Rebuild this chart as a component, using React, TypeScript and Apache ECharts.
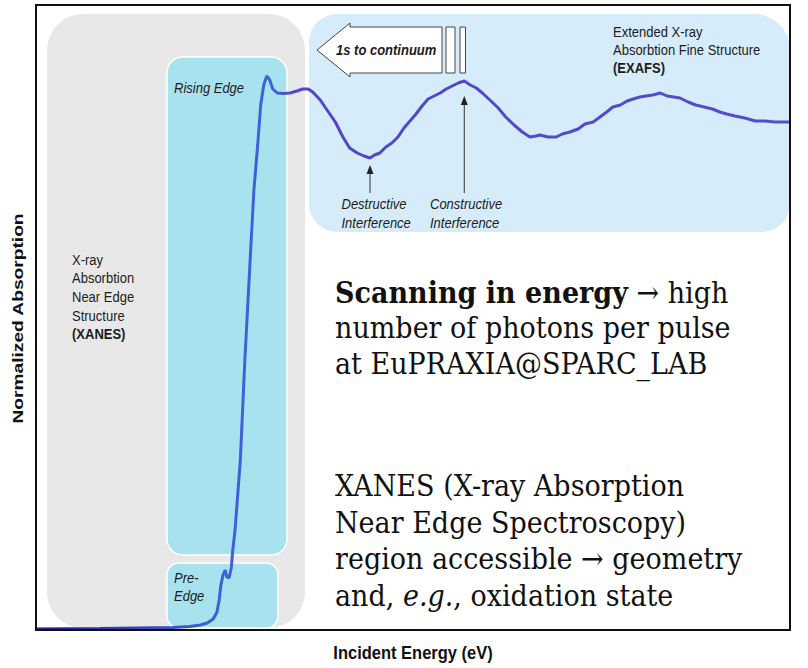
import React, { useEffect, useRef } from "react";
import * as echarts from "echarts";

// Incident energy on a relative scale (0–100) and normalized absorption μ(E)
const energy = [
  0, 8.5, 18.2, 20.4, 21.8, 22.7, 23.5, 24.0, 24.3, 24.5, 24.8, 25.1, 25.3, 25.6, 25.9, 26.1, 26.4,
  27.1, 27.7, 28.4, 28.9, 29.4, 29.8, 30.2, 30.6, 31.0, 31.4, 32.0, 32.8, 33.7, 34.6, 35.4, 36.1,
  36.7, 37.7, 38.6, 39.7, 40.7, 41.6, 42.6, 43.5, 44.3, 44.9, 45.6, 46.4, 47.2, 48.0, 48.8, 49.6,
  50.4, 51.2, 52.0, 52.8, 53.6, 54.4, 55.2, 56.0, 56.8, 57.6, 58.4, 59.2, 60.2, 61.3, 62.3, 63.4,
  64.5, 65.5, 66.3, 66.8, 67.9, 69.0, 69.8, 70.8, 71.9, 72.8, 73.9, 74.8, 75.7, 76.5, 77.5, 78.4,
  79.2, 80.1, 80.9, 81.8, 82.8, 83.7, 84.6, 85.4, 86.5, 87.5, 88.6, 89.7, 90.7, 91.6, 92.7, 94.0,
  95.4, 96.7, 98.0, 100,
];
const absorption = [
  0.002, 0.003, 0.005, 0.007, 0.010, 0.014, 0.022, 0.036, 0.060, 0.088, 0.110, 0.120, 0.106, 0.104,
  0.124, 0.160, 0.200, 0.340, 0.540, 0.740, 0.880, 0.970, 1.050, 1.090, 1.108, 1.100, 1.082, 1.074,
  1.073, 1.074, 1.078, 1.082, 1.082, 1.076, 1.060, 1.040, 1.016, 0.986, 0.964, 0.954, 0.948, 0.944,
  0.950, 0.954, 0.966, 0.974, 0.986, 1.004, 1.018, 1.032, 1.048, 1.062, 1.068, 1.074, 1.082, 1.088,
  1.094, 1.098, 1.090, 1.084, 1.074, 1.060, 1.044, 1.026, 1.010, 0.996, 0.986, 0.988, 0.990, 0.986,
  0.986, 0.992, 0.996, 1.002, 1.012, 1.016, 1.026, 1.036, 1.046, 1.050, 1.058, 1.062, 1.066, 1.068,
  1.070, 1.074, 1.068, 1.066, 1.064, 1.056, 1.050, 1.046, 1.042, 1.036, 1.032, 1.028, 1.024, 1.018,
  1.018, 1.016, 1.016,
];

const xTitle = "Incident Energy (eV)";
const yTitle = "Normalized Absorption";
const xanesLabel = ["X-ray", "Absorbtion", "Near Edge", "Structure", "(XANES)"];
const exafsLabel = ["Extended X-ray", "Absorbtion Fine Structure", "(EXAFS)"];
const risingLabel = "Rising Edge";
const preEdgeLabel = ["Pre-", "Edge"];
const continuumLabel = "1s to continuum";
const destructiveLabel = ["Destructive", "Interference"];
const constructiveLabel = ["Constructive", "Interference"];
const noteTop = [
  "{b|Scanning in energy} → high",
  "number of photons per pulse",
  "at EuPRAXIA@SPARC_LAB",
];
const noteBottom = [
  "XANES (X-ray Absorption",
  "Near Edge Spectroscopy)",
  "region accessible → geometry",
  "and, {i|e.g.}, oxidation state",
];

const SANS = "'Liberation Sans', Arial, Helvetica, sans-serif";
const SERIF = "'DejaVu Serif', serif";

function sansText(
  text: string,
  x: number,
  y: number,
  o: { bold?: boolean; italic?: boolean; size?: number } = {}
) {
  return {
    type: "text",
    x,
    y,
    scaleY: 1.12,
    z: 10,
    silent: true,
    style: {
      text,
      fill: "#1c1c1c",
      fontFamily: SANS,
      fontSize: o.size ?? 13,
      fontWeight: o.bold ? "bold" : "normal",
      fontStyle: o.italic ? "italic" : "normal",
      align: "left",
      verticalAlign: "middle",
    },
  };
}

function serifText(text: string, x: number, y: number) {
  return {
    type: "text",
    x,
    y,
    scaleY: 1.12,
    z: 10,
    silent: true,
    style: {
      text,
      fill: "#111",
      fontFamily: SERIF,
      fontSize: 27,
      align: "left",
      verticalAlign: "middle",
      rich: {
        b: { fontFamily: SERIF, fontSize: 27, fontWeight: "bold", fill: "#111" },
        i: { fontFamily: SERIF, fontSize: 27, fontStyle: "italic", fill: "#111" },
      },
    },
  };
}

export default function App() {
  const ref = useRef<HTMLDivElement>(null);

  useEffect(() => {
    const el = ref.current!;
    const chart = echarts.init(el, null, { renderer: "svg" });
    const data = energy.map((e, i) => [e, absorption[i]]);

    chart.setOption({
      animation: false,
      grid: { left: 36, right: 18, top: 5, bottom: 38 },
      xAxis: { type: "value", min: 0, max: 100, show: false },
      yAxis: { type: "value", min: 0, max: 1.25, show: false },
      series: [
        {
          type: "line",
          data,
          symbol: "none",
          silent: true,
          z: 5,
          lineStyle: {
            width: 3,
            color: new echarts.graphic.LinearGradient(0, 0, 1, 0, [
              { offset: 0, color: "#1f1f8e" },
              { offset: 0.14, color: "#3a44bc" },
              { offset: 0.24, color: "#3c60d8" },
              { offset: 0.31, color: "#3e62d8" },
              { offset: 0.35, color: "#5444c8" },
              { offset: 1, color: "#4f4fd0" },
            ]),
          },
        },
      ],
    });

    const px = (x: number, y: number) =>
      chart.convertToPixel({ gridIndex: 0 }, [x, y]) as number[];
    const [gx0, gy0] = px(0, 1.25);
    const [gx1, gy1] = px(100, 0);

    // extreme points used by the interference arrows
    let dIdx = -1;
    let cIdx = -1;
    energy.forEach((e, i) => {
      if (e > 40 && e < 50 && (dIdx < 0 || absorption[i] < absorption[dIdx])) dIdx = i;
      if (e > 50 && e < 60 && (cIdx < 0 || absorption[i] > absorption[cIdx])) cIdx = i;
    });
    const dP = px(energy[dIdx], absorption[dIdx]);
    const cP = px(energy[cIdx], absorption[cIdx]);

    const upArrow = (x: number, tipY: number, baseY: number) => [
      {
        type: "line",
        z: 10,
        silent: true,
        shape: { x1: x, y1: baseY, x2: x, y2: tipY + 6 },
        style: { stroke: "#333", lineWidth: 1 },
      },
      {
        type: "polygon",
        z: 10,
        silent: true,
        shape: { points: [[x, tipY], [x - 3.5, tipY + 9], [x + 3.5, tipY + 9]] },
        style: { fill: "#222" },
      },
    ];

    const elements: any[] = [
      // region panels
      {
        type: "rect",
        z: 1,
        silent: true,
        shape: { x: 47, y: 14, width: 258, height: 614, r: 36 },
        style: { fill: "#e8e8e8" },
      },
      {
        type: "rect",
        z: 1,
        silent: true,
        shape: { x: 309, y: 14, width: gx1 - 309, height: 218, r: [28, 36, 28, 28] },
        style: { fill: "#d6ecfa" },
      },
      {
        type: "rect",
        z: 2,
        silent: true,
        shape: { x: 167, y: 57, width: 120, height: 498, r: 16 },
        style: { fill: "#a8e2ee", stroke: "#ffffff", lineWidth: 1.5 },
      },
      {
        type: "rect",
        z: 2,
        silent: true,
        shape: { x: 167, y: 563, width: 111, height: 65, r: 12 },
        style: { fill: "#a8e2ee", stroke: "#ffffff", lineWidth: 1.5 },
      },
      // "1s to continuum" arrow with break bars
      {
        type: "polygon",
        z: 8,
        silent: true,
        shape: {
          points: [
            [317, 50], [350, 23], [350, 27], [442, 27], [442, 73], [350, 73], [350, 77],
          ],
        },
        style: { fill: "#ffffff", stroke: "#444", lineWidth: 1 },
      },
      {
        type: "rect",
        z: 8,
        silent: true,
        shape: { x: 446, y: 27, width: 9, height: 46 },
        style: { fill: "#ffffff", stroke: "#444", lineWidth: 1 },
      },
      {
        type: "rect",
        z: 8,
        silent: true,
        shape: { x: 460, y: 27, width: 5.5, height: 46 },
        style: { fill: "#ffffff", stroke: "#444", lineWidth: 1 },
      },
      sansText(continuumLabel, 336, 50, { bold: true, italic: true }),
      ...upArrow(dP[0], dP[1] + 7, 193),
      ...upArrow(cP[0], cP[1] + 15, 193),
      ...xanesLabel.map((t, i) =>
        sansText(t, 72, 260 + i * 18.65, { bold: i === xanesLabel.length - 1 })
      ),
      ...exafsLabel.map((t, i) =>
        sansText(t, 613, 32.5 + i * 18, { bold: i === exafsLabel.length - 1 })
      ),
      sansText(risingLabel, 174, 88, { italic: true }),
      ...preEdgeLabel.map((t, i) => sansText(t, 174, 578.7 + i * 18, { italic: true })),
      ...destructiveLabel.map((t, i) => sansText(t, 341.5, 204 + i * 19, { italic: true })),
      ...constructiveLabel.map((t, i) => sansText(t, 430, 204 + i * 19, { italic: true })),
      ...noteTop.map((t, i) => serifText(t, 335, 292 + i * 35.5)),
      ...noteBottom.map((t, i) => serifText(t, 335, 485.5 + i * 36.5)),
      // axis titles
      {
        type: "text",
        x: (gx0 + gx1) / 2,
        y: 653,
        scaleY: 1.1,
        z: 10,
        silent: true,
        style: {
          text: xTitle,
          fill: "#111",
          fontFamily: SANS,
          fontSize: 16.5,
          fontWeight: "bold",
          align: "center",
          verticalAlign: "middle",
        },
      },
      {
        type: "text",
        x: 18,
        y: (gy0 + gy1) / 2 + 1,
        rotation: Math.PI / 2,
        scaleX: 1.37,
        z: 10,
        silent: true,
        style: {
          text: yTitle,
          fill: "#111",
          fontFamily: SANS,
          fontSize: 14,
          fontWeight: "bold",
          align: "center",
          verticalAlign: "middle",
        },
      },
      // plot frame
      {
        type: "rect",
        z: 20,
        silent: true,
        shape: { x: gx0, y: gy0, width: gx1 - gx0, height: gy1 - gy0 },
        style: { fill: "none", stroke: "#111", lineWidth: 2 },
      },
    ];

    chart.setOption({ graphic: { elements } });
    return () => chart.dispose();
  }, []);

  return (
    <div
      ref={ref}
      style={{ position: "absolute", left: 0, top: 0, width: 808, height: 668, background: "#fff" }}
    />
  );
}
